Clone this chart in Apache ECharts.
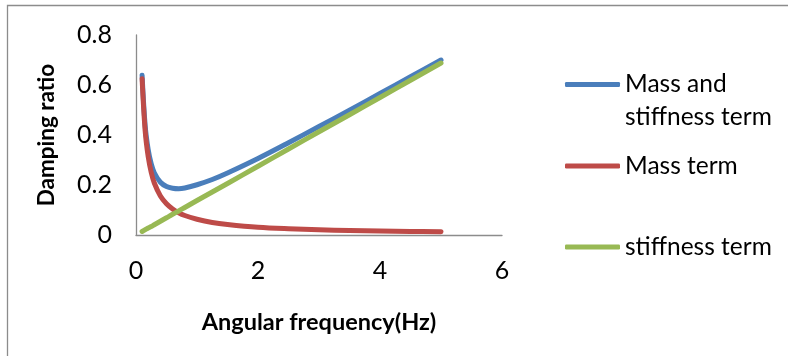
<!DOCTYPE html>
<html>
<head>
<meta charset="utf-8">
<script src="https://cdn.jsdelivr.net/npm/echarts@6/dist/echarts.min.js"></script>
<style>
  html, body { margin: 0; padding: 0; background: #fff; }
  #chart { width: 788px; height: 356px; }
</style>
</head>
<body>
<div id="chart"></div>
<script>
// Angular frequency samples (Hz)
const frequency = [0.1, 0.15, 0.2, 0.25, 0.3, 0.4, 0.5, 0.6, 0.7, 0.8, 1.0, 1.25, 1.5, 2.0, 2.5, 3.0, 3.5, 4.0, 4.5, 5.0];
// Damping ratio: combined Rayleigh damping
const massAndStiffness = [0.639, 0.438, 0.341, 0.284, 0.249, 0.211, 0.194, 0.187, 0.185, 0.188, 0.201, 0.222, 0.248, 0.306, 0.369, 0.434, 0.499, 0.566, 0.633, 0.700];
// Mass-proportional contribution
const massTerm = [0.625, 0.417, 0.313, 0.250, 0.208, 0.156, 0.125, 0.104, 0.089, 0.078, 0.063, 0.050, 0.042, 0.031, 0.025, 0.021, 0.018, 0.016, 0.014, 0.013];
// Stiffness-proportional contribution
const stiffnessTerm = [0.014, 0.021, 0.028, 0.034, 0.041, 0.055, 0.069, 0.083, 0.096, 0.110, 0.138, 0.172, 0.206, 0.275, 0.344, 0.413, 0.481, 0.550, 0.619, 0.688];

const seriesNames = ['Mass and stiffness term', 'Mass term', 'stiffness term'];
const xTicks = { min: 0, max: 6, interval: 2 };
const yTicks = { min: 0, max: 0.8, interval: 0.2 };

const FONT = 'Lato, "Open Sans", sans-serif';
const pairs = ys => frequency.map((x, i) => [x, ys[i]]);

const chart = echarts.init(document.getElementById('chart'), null, { renderer: 'canvas' });

const lineSeries = (name, ys, color) => ({
  name,
  type: 'line',
  data: pairs(ys),
  smooth: 0.35,
  symbol: 'none',
  lineStyle: { color, width: 5, cap: 'round', join: 'round' },
  itemStyle: { color },
  animation: false
});

const legendBase = {
  left: 565,
  orient: 'vertical',
  padding: 0,
  itemWidth: 55,
  itemHeight: 5,
  icon: 'roundRect',
  selectedMode: false,
  textStyle: { fontFamily: FONT, fontSize: 24.5, color: '#000', lineHeight: 33 }
};

chart.setOption({
  animation: false,
  backgroundColor: '#fff',
  graphic: [{
    type: 'rect',
    shape: { x: 7.5, y: 5.5, width: 900, height: 500 },
    style: { fill: 'none', stroke: '#8c8c8c', lineWidth: 1.3 },
    silent: true
  }],
  grid: { left: 136, right: 286, top: 35, bottom: 121 },
  xAxis: {
    type: 'value',
    min: xTicks.min, max: xTicks.max, interval: xTicks.interval,
    name: 'Angular frequency(Hz)',
    nameLocation: 'middle',
    nameGap: 75,
    nameTextStyle: { fontFamily: FONT, fontSize: 23.5, fontWeight: 'bold', color: '#000' },
    axisLine: { onZero: false, lineStyle: { color: '#8c8c8c', width: 1.3 } },
    axisTick: { show: false },
    splitLine: { show: false },
    axisLabel: { margin: 23, fontFamily: FONT, fontSize: 25, color: '#000' }
  },
  yAxis: {
    type: 'value',
    min: yTicks.min, max: yTicks.max, interval: yTicks.interval,
    name: 'Damping ratio',
    nameLocation: 'middle',
    nameGap: 78,
    nameTextStyle: { fontFamily: FONT, fontSize: 22.5, fontWeight: 'bold', color: '#000' },
    axisLine: { show: true, lineStyle: { color: '#8c8c8c', width: 1.3 } },
    axisTick: { show: false },
    splitLine: { show: false },
    axisLabel: { margin: 24, fontFamily: FONT, fontSize: 25, color: '#000' }
  },
  legend: [
    Object.assign({}, legendBase, {
      top: 35,
      data: [seriesNames[0]],
      formatter: () => '\nMass and\nstiffness term'
    }),
    Object.assign({}, legendBase, { top: 149.5, data: [seriesNames[1]] }),
    Object.assign({}, legendBase, { top: 230.5, data: [seriesNames[2]] })
  ],
  series: [
    lineSeries(seriesNames[0], massAndStiffness, '#4A7EBB'),
    lineSeries(seriesNames[1], massTerm, '#BE4B48'),
    lineSeries(seriesNames[2], stiffnessTerm, '#98B954')
  ]
});
</script>
</body>
</html>
